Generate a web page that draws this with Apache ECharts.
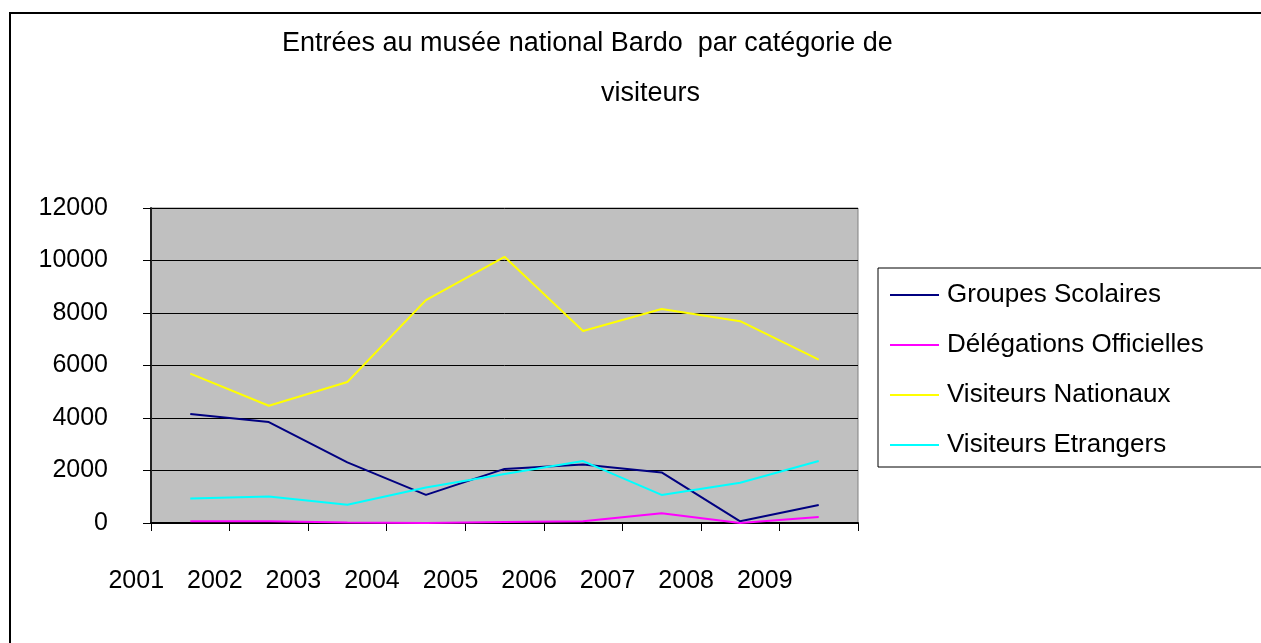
<!DOCTYPE html>
<html>
<head>
<meta charset="utf-8">
<title>Bardo</title>
<script src="https://cdn.jsdelivr.net/npm/echarts@6/dist/echarts.min.js"></script>
<style>
    body { margin: 0; background: #fff; }
    #main { width: 1261px; height: 643px; }
</style>
</head>
<body>
<div id="main"></div>
<script>
// données
var annees = ['2001', '2002', '2003', '2004', '2005', '2006', '2007', '2008', '2009'];
var groupesScolaires = [4155, 3845, 2310, 1070, 2060, 2225, 1925, 65, 685];
var delegationsOfficielles = [65, 65, 15, 0, 40, 65, 375, 0, 230];
var visiteursNationaux = [5690, 4465, 5370, 8490, 10140, 7315, 8155, 7690, 6220];
var visiteursEtrangers = [930, 1005, 695, 1350, 1870, 2360, 1070, 1535, 2360];
var nomsSeries = ['Groupes Scolaires', 'Délégations Officielles', 'Visiteurs Nationaux', 'Visiteurs Etrangers'];
var couleurs = ['#000080', '#FF00FF', '#FFFF00', '#00FFFF'];

var police = 'Liberation Sans, Arial, sans-serif';
// trait fin au milieu d'une boîte 49x24 (les sous-chemins vides gardent la taille)
var iconeTrait = 'path://M0,0L49,0L49,0Z M0,11L49,11L49,13L0,13Z M0,24L49,24L49,24Z';
var myChart = echarts.init(document.getElementById('main'));

function serie(i, data) {
    return {
        name: nomsSeries[i],
        type: 'line',
        data: data,
        symbol: 'none',
        lineStyle: { color: couleurs[i], width: 2 },
        itemStyle: { color: couleurs[i] }
    };
}

var option = {
    backgroundColor: '#fff',
    animation: false,
    color: couleurs,
    title: [{
        text: 'Entrées au musée national Bardo  par catégorie de',
        left: 282,
        top: 30,
        padding: 0,
        textStyle: { fontFamily: police, fontSize: 27, fontWeight: 'normal', color: '#000' }
    }, {
        text: 'visiteurs',
        left: 601,
        top: 80,
        padding: 0,
        textStyle: { fontFamily: police, fontSize: 27, fontWeight: 'normal', color: '#000' }
    }],
    legend: {
        orient: 'vertical',
        left: 878,
        top: 268,
        padding: [14, 80, 9, 12],
        itemWidth: 49,
        itemHeight: 24,
        itemGap: 24,
        icon: iconeTrait,
        backgroundColor: '#fff',
        borderColor: '#000',
        borderWidth: 1,
        borderRadius: 0,
        data: nomsSeries,
        textStyle: { fontFamily: police, fontSize: 26, color: '#000', padding: [0, 0, 0, 3] }
    },
    grid: {
        left: 151,
        top: 208,
        width: 707,
        height: 315,
        show: true,
        backgroundColor: '#C0C0C0',
        borderColor: '#808080',
        borderWidth: 1
    },
    xAxis: {
        type: 'category',
        data: annees,
        boundaryGap: true,
        axisLine: { lineStyle: { color: '#000', width: 2 } },
        axisTick: { show: true, interval: 0, length: 8, lineStyle: { color: '#000' } },
        axisLabel: {
            interval: 0,
            margin: 46,
            padding: [0, 108, 0, 0],
            fontFamily: police,
            fontSize: 25,
            color: '#000'
        }
    },
    yAxis: {
        type: 'value',
        min: 0,
        max: 12000,
        interval: 2000,
        axisLine: { show: true, lineStyle: { color: '#222', width: 2 } },
        axisTick: { show: true, length: 8, lineStyle: { color: '#000' } },
        splitLine: { show: true, lineStyle: { color: '#000', width: 1 } },
        axisLabel: {
            margin: 43,
            fontFamily: police,
            fontSize: 25,
            color: '#000',
            formatter: function (v) { return String(v); }
        }
    },
    graphic: [{
        // cadre extérieur
        type: 'rect',
        shape: { x: 10, y: 13, width: 1300, height: 700 },
        style: { fill: 'none', stroke: '#000', lineWidth: 2 },
        silent: true
    }],
    series: [
        serie(0, groupesScolaires),
        serie(1, delegationsOfficielles),
        serie(2, visiteursNationaux),
        serie(3, visiteursEtrangers)
    ]
};

myChart.setOption(option);
</script>
</body>
</html>
